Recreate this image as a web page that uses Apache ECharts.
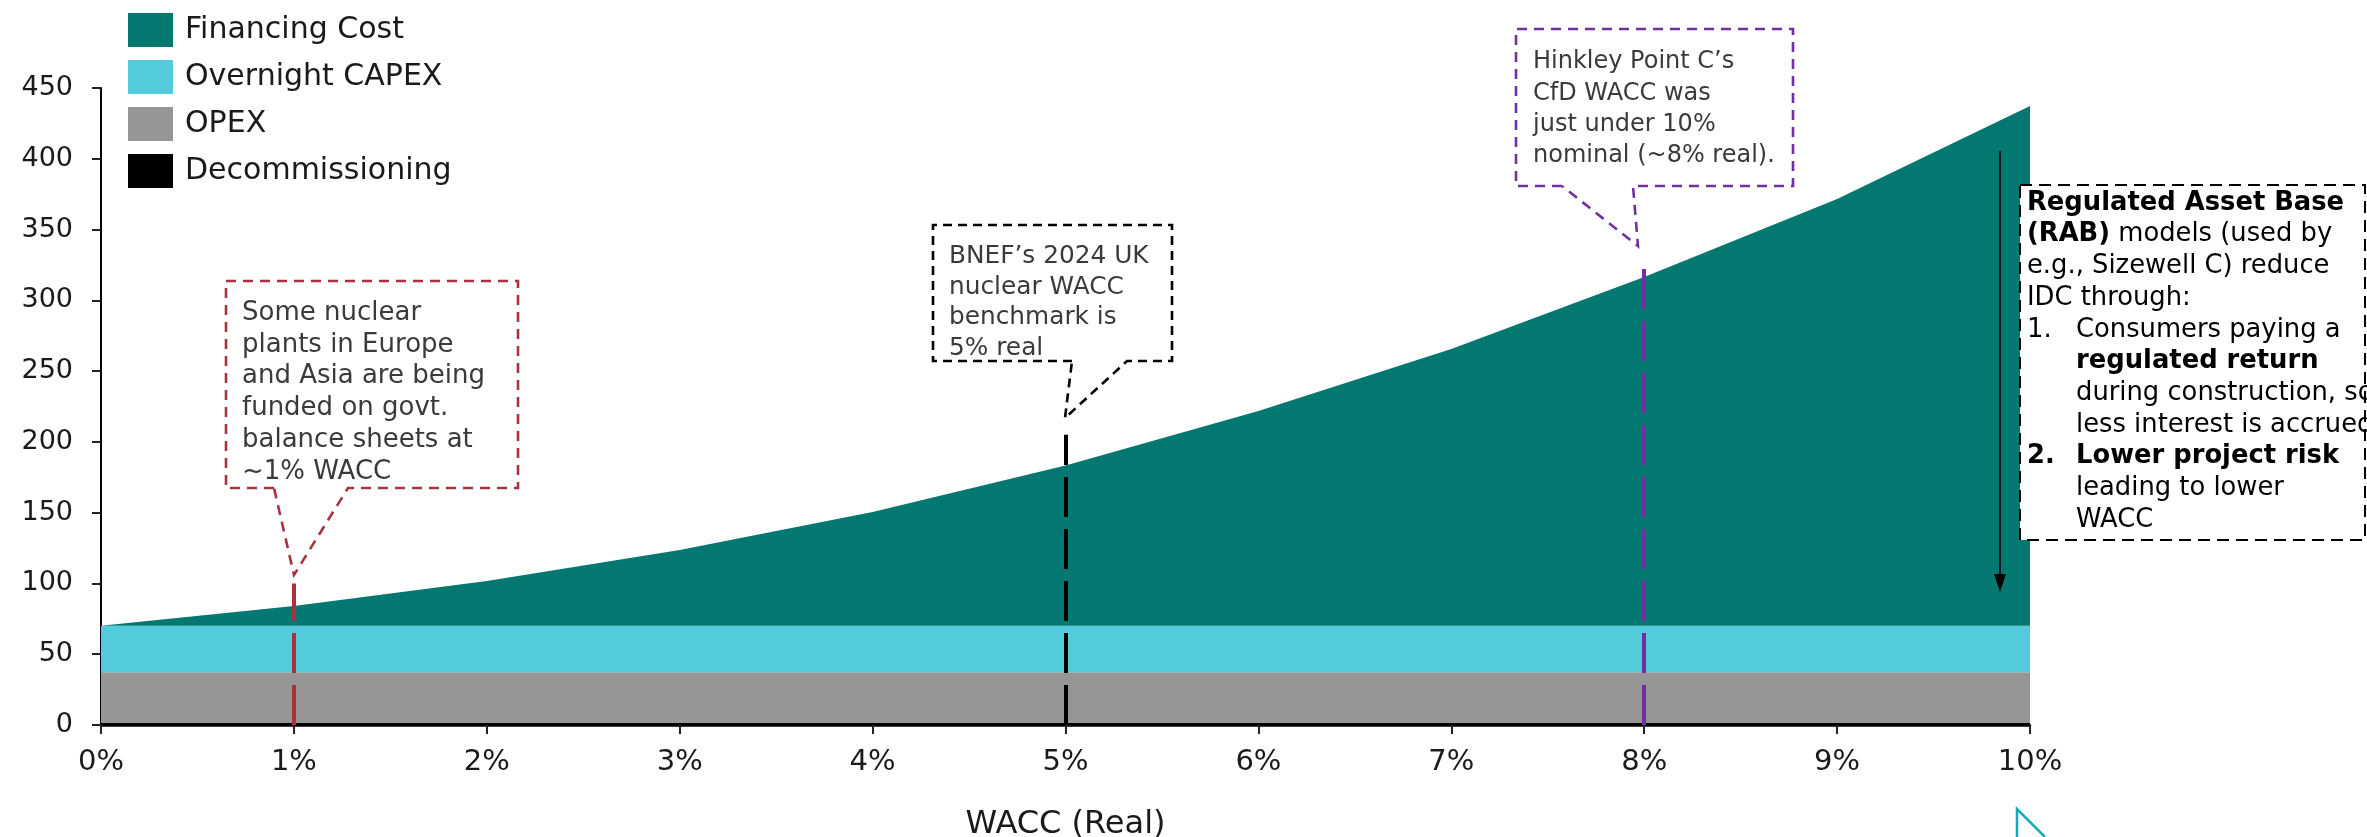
<!DOCTYPE html>
<html>
<head>
<meta charset="utf-8">
<script src="https://cdn.jsdelivr.net/npm/echarts@6/dist/echarts.min.js"></script>
<style>
html,body{margin:0;padding:0;background:#fff;}
#chart{width:2367px;height:837px;}
</style>
</head>
<body>
<div id="chart"></div>
<script>
// ---- data ----
const categories = ['0%','1%','2%','3%','4%','5%','6%','7%','8%','9%','10%'];
const decommissioning = [1.5,1.5,1.5,1.5,1.5,1.5,1.5,1.5,1.5,1.5,1.5];
const opex = [35.7,35.7,35.7,35.7,35.7,35.7,35.7,35.7,35.7,35.7,35.7];
const capex = [33,33,33,33,33,33,33,33,33,33,33];
const financing = [0,13.8,31.5,53.5,80.3,113.2,151.6,195.5,246.2,301.3,367];
const seriesNames = ['Financing Cost','Overnight CAPEX','OPEX','Decommissioning'];
const yTicks = {min:0, max:450, interval:50};
const refLines = [
  {x:'1%', top:100, color:'#A8323E'},
  {x:'5%', top:205, color:'#000000'},
  {x:'8%', top:328, color:'#7030A0'}
];

const FONT = '"DejaVu Sans", sans-serif';
const chart = echarts.init(document.getElementById('chart'));

function callout(box, gap, tip, color, dash){
  const [l,t,r,b] = box;
  return {
    type:'polyline', z:20,
    shape:{points:[[gap[0],b],[l,b],[l,t],[r,t],[r,b],[gap[1],b],tip,[gap[0],b]]},
    style:{stroke:color, lineWidth:2.6, lineDash:dash, fill:null}
  };
}
function textLines(lines, x, y0, step, size, color){
  return lines.map((s,i)=>({
    type:'text', z:21,
    style:{x:x, y:y0+i*step, text:s, font:size+'px '+FONT, fill:color, verticalAlign:'middle', align:'left'}
  }));
}
const RS = 25.8;
function richLine(text, x, y){
  return {
    type:'text', z:21,
    style:{x:x, y:y, text:text, verticalAlign:'middle', align:'left',
      font:RS+'px '+FONT, fill:'#000',
      rich:{
        b:{fontFamily:FONT, fontSize:RS, fontWeight:'bold', fill:'#000'},
        n:{fontFamily:FONT, fontSize:RS, fill:'#000'}
      }}
  };
}

const rabStep = 31.7, rabY = 203, rabX = 2027, rabX2 = 2076;
const graphics = [
  // red callout
  callout([226,281,518,488],[274,348],[294,575],'#A8323E',[10,7]),
  ...textLines(['Some nuclear','plants in Europe','and Asia are being','funded on govt.','balance sheets at','~1% WACC'],242,313,31.8,26,'#3a3a3a'),
  // black callout
  callout([933,225,1172,361],[1072,1127],[1065,418],'#000000',[9,6]),
  ...textLines(['BNEF\u2019s 2024 UK','nuclear WACC','benchmark is','5% real'],949,256.5,30.7,24.8,'#3a3a3a'),
  // purple callout
  callout([1516,29,1793,186],[1562,1633],[1638,246],'#7030A0',[10,7]),
  ...textLines(['Hinkley Point C\u2019s','CfD WACC was','just under 10%','nominal (~8% real).'],1533,62,31.4,24,'#3a3a3a'),
  // RAB arrow
  {type:'line', z:20, shape:{x1:2000,y1:151,x2:2000,y2:580}, style:{stroke:'#000',lineWidth:1.6}},
  {type:'polygon', z:20, shape:{points:[[1994,574],[2006,574],[2000,592]]}, style:{fill:'#000'}},
  // RAB box
  {type:'rect', z:19, shape:{x:2020,y:185,width:345,height:355}, style:{fill:'#fff',stroke:'#000',lineWidth:2,lineDash:[12,7]}},
  richLine('{b|Regulated Asset Base}', rabX, rabY),
  richLine('{b|(RAB)}{n| models (used by}', rabX, rabY+rabStep),
  richLine('{n|e.g., Sizewell C) reduce}', rabX, rabY+2*rabStep),
  richLine('{n|IDC through:}', rabX, rabY+3*rabStep),
  richLine('{n|1.}', rabX, rabY+4*rabStep),
  richLine('{n|Consumers paying a}', rabX2, rabY+4*rabStep),
  richLine('{b|regulated return}', rabX2, rabY+5*rabStep),
  richLine('{n|during construction, so}', rabX2, rabY+6*rabStep),
  richLine('{n|less interest is accrued}', rabX2, rabY+7*rabStep),
  richLine('{b|2.}', rabX, rabY+8*rabStep),
  richLine('{b|Lower project risk}', rabX2, rabY+8*rabStep),
  richLine('{n|leading to lower}', rabX2, rabY+9*rabStep),
  richLine('{n|WACC}', rabX2, rabY+10*rabStep),
  // teal corner decoration
  {type:'polyline', z:20, shape:{points:[[2017,837],[2017,809],[2045,837]]}, style:{stroke:'#17A9B5',lineWidth:2.5,fill:null}}
];

function areaSeries(name, data, color, extra){
  return Object.assign({
    name:name, type:'line', stack:'total', data:data,
    symbol:'none', showSymbol:false, silent:true,
    lineStyle:{width:0, color:color}, itemStyle:{color:color},
    areaStyle:{color:color, opacity:1}, emphasis:{disabled:true}
  }, extra||{});
}

const option = {
  animation:false,
  backgroundColor:'#fff',
  grid:{left:101, right:337, top:88, bottom:112, containLabel:false, outerBoundsMode:'none'},
  legend:{
    data:seriesNames, orient:'vertical', left:123, top:8,
    icon:'rect', itemWidth:45, itemHeight:34, itemGap:13,
    textStyle:{fontFamily:FONT, fontSize:30, color:'#1a1a1a', padding:[0,0,0,7]},
    selectedMode:false
  },
  xAxis:{
    type:'category', data:categories, boundaryGap:false,
    name:'WACC (Real)', nameLocation:'middle', nameGap:84,
    nameTextStyle:{fontFamily:FONT, fontSize:32, color:'#1a1a1a'},
    axisLine:{lineStyle:{color:'#000', width:2.5}},
    axisTick:{show:true, length:9, lineStyle:{color:'#222', width:2}, alignWithLabel:true},
    axisLabel:{fontFamily:FONT, fontSize:29, color:'#1a1a1a', margin:23},
    splitLine:{show:false}
  },
  yAxis:{
    type:'value', min:yTicks.min, max:yTicks.max, interval:yTicks.interval,
    axisLine:{show:true, lineStyle:{color:'#000', width:2}},
    axisTick:{show:true, length:9, lineStyle:{color:'#222', width:2}},
    axisLabel:{fontFamily:FONT, fontSize:27, color:'#1a1a1a', margin:28},
    splitLine:{show:false}
  },
  series:[
    areaSeries('Decommissioning', decommissioning, '#000000'),
    areaSeries('OPEX', opex, '#969696'),
    areaSeries('Overnight CAPEX', capex, '#54CBDA'),
    areaSeries('Financing Cost', financing, '#037870', {
      markLine:{
        silent:true, symbol:['none','none'], label:{show:false}, z:10,
        data: refLines.map(r=>[
          {coord:[r.x, 0], lineStyle:{color:r.color, width:4, type:[40,12]}},
          {coord:[r.x, r.top]}
        ])
      }
    })
  ],
  graphic:graphics
};
chart.setOption(option);
</script>
</body>
</html>
